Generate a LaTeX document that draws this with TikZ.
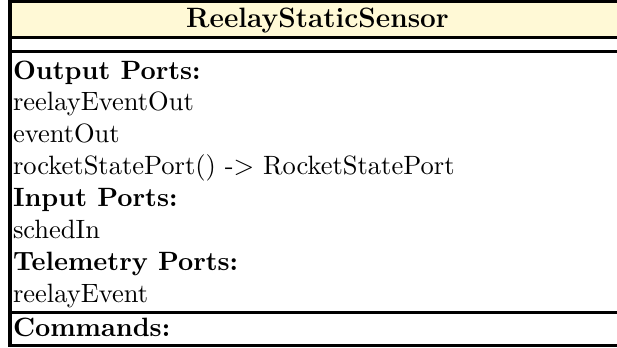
\documentclass[tikz,border=0pt]{standalone}
\usepackage{xcolor}
\definecolor{headfill}{RGB}{255,249,214}
\newcommand{\boxfont}{\fontsize{10.6}{12.7}\selectfont}
\newcommand{\titlefont}{\fontsize{11.2}{13.4}\selectfont}
\begin{document}
\begin{tikzpicture}[
		x=0.4pt, y=-0.4pt,
		box line/.style={line width=1.4pt},
		title node/.style={font=\titlefont\bfseries, anchor=base, inner sep=0pt},
		head node/.style={font=\boxfont\bfseries, anchor=base west, inner sep=0pt},
		item node/.style={font=\boxfont, anchor=base west, inner sep=0pt}
		]
		\useasboundingbox (0,0) rectangle (617,347);
		% frame corners and dividers
		\coordinate (TL) at (10,1.5);
		\coordinate (BR) at (624,345.5);
		\coordinate (HeadL) at (10,37.5);
		\coordinate (HeadR) at (624,37.5);
		\coordinate (AttrL) at (10,51.5);
		\coordinate (AttrR) at (624,51.5);
		\coordinate (CmdL) at (10,312.5);
		\coordinate (CmdR) at (624,312.5);
		
		\fill[headfill] (TL) rectangle (HeadR);
		\draw[box line] (TL) rectangle (BR);
		\draw[box line] (HeadL) -- (HeadR);
		\draw[box line] (AttrL) -- (AttrR);
		\draw[box line] (CmdL) -- (CmdR);
		
		\node[title node] (title) at (317.5,27) {ReelayStaticSensor};
		
		\node[head node] (outhead) at (12.5,79) {Output Ports:};
		\node[item node] (outa) at (12.5,110.9) {reelayEventOut};
		\node[item node] (outb) at (12.5,142.7) {eventOut};
		\node[item node] (outc) at (12.5,174.6) {rocketStatePort() -> RocketStatePort};
		\node[head node] (inhead) at (12.5,206.4) {Input Ports:};
		\node[item node] (ina) at (12.5,238.3) {schedIn};
		\node[head node] (tlmhead) at (12.5,270.1) {Telemetry Ports:};
		\node[item node] (tlma) at (12.5,302) {reelayEvent};
		\node[head node] (cmdhead) at (12.5,336) {Commands:};
\end{tikzpicture}
\end{document}
